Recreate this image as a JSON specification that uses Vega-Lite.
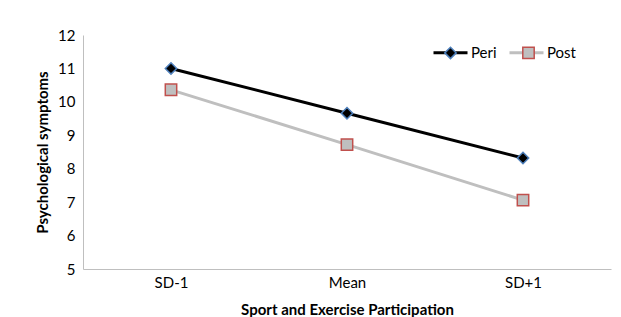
{
  "$schema": "https://vega.github.io/schema/vega-lite/v6.json",
  "autosize": "none",
  "width": 528,
  "height": 234,
  "padding": {"left": 83, "top": 35, "right": 10, "bottom": 48},
  "background": "white",
  "config": {
    "view": {"stroke": null},
    "font": "Lato",
    "axis": {"grid": false, "domainColor": "#BFBFBF", "domainWidth": 1, "ticks": false, "labelColor": "#000000", "titleColor": "#000000", "labelFont": "Lato", "titleFont": "Lato", "labelFontSize": 15, "titleFontSize": 15, "titleFontWeight": "bold"},
    "legend": {"labelFont": "Lato", "labelFontSize": 15, "labelColor": "#000000"}
  },
  "data": {
    "values": [
      {"level": "SD-1", "series": "Peri", "value": 11.0},
      {"level": "Mean", "series": "Peri", "value": 9.66},
      {"level": "SD+1", "series": "Peri", "value": 8.32},
      {"level": "SD-1", "series": "Post", "value": 10.36},
      {"level": "Mean", "series": "Post", "value": 8.72},
      {"level": "SD+1", "series": "Post", "value": 7.06}
    ]
  },
  "encoding": {
    "x": {
      "field": "level", "type": "ordinal", "sort": ["SD-1", "Mean", "SD+1"],
      "scale": {"type": "point", "padding": 0.5},
      "axis": {"title": "Sport and Exercise Participation", "labelAngle": 0, "labelPadding": 6, "titlePadding": 12}
    },
    "y": {
      "field": "value", "type": "quantitative",
      "scale": {"domain": [5, 12], "nice": false, "zero": false},
      "axis": {"title": "Psychological symptoms", "values": [5, 6, 7, 8, 9, 10, 11, 12], "labelPadding": 8, "titlePadding": 7}
    }
  },
  "layer": [
    {
      "mark": {"type": "line", "strokeWidth": 3},
      "encoding": {
        "color": {
          "field": "series", "type": "nominal",
          "scale": {"domain": ["Peri", "Post"], "range": ["#000000", "#BFBFBF"]},
          "legend": {
            "title": null, "orient": "none", "legendX": 349, "legendY": -1, "direction": "horizontal",
            "symbolType": "stroke", "symbolSize": 1156, "symbolStrokeWidth": 3,
            "labelOffset": 2, "columnPadding": 6, "padding": 0
          }
        }
      }
    },
    {
      "mark": {"type": "point", "filled": true, "size": 130, "opacity": 1, "strokeWidth": 1.5},
      "encoding": {
        "fill": {
          "field": "series", "type": "nominal",
          "scale": {"range": ["#000000", "#BFBFBF"]},
          "legend": {
            "title": null, "orient": "none", "legendX": 349, "legendY": 10, "direction": "horizontal",
            "symbolSize": 130, "symbolOffset": 11, "labelOffset": 0, "columnPadding": 50, "padding": 0,
            "labelExpr": "''",
            "encode": {
              "symbols": {"update": {
                "stroke": {"signal": "datum.value === 'Peri' ? '#4F81BD' : '#C0504D'"},
                "strokeWidth": {"value": 1.5},
                "opacity": {"value": 1}
              }}
            }
          }
        },
        "shape": {
          "field": "series", "type": "nominal",
          "scale": {"range": ["diamond", "square"]},
          "legend": {
            "title": null, "orient": "none", "legendX": 349, "legendY": 10, "direction": "horizontal",
            "symbolSize": 130, "symbolOffset": 11, "labelOffset": 0, "columnPadding": 50, "padding": 0,
            "labelExpr": "''"
          }
        },
        "stroke": {
          "field": "series", "type": "nominal",
          "scale": {"range": ["#4F81BD", "#C0504D"]},
          "legend": null
        }
      }
    }
  ]
}
